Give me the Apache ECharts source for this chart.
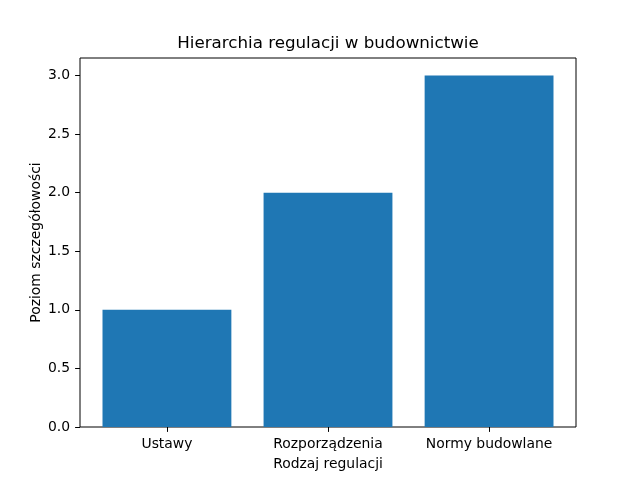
<!DOCTYPE html>
<html><head><meta charset="utf-8">
<script src="https://cdn.jsdelivr.net/npm/echarts@6/dist/echarts.min.js"></script>
<style>html,body{margin:0;padding:0;background:#fff}#c{width:640px;height:480px}</style>
</head><body><div id="c"></div>
<script>
var categories = ['Ustawy', 'Rozporządzenia', 'Normy budowlane'];
var values = [1, 2, 3];
var yTicks = [0, 0.5, 1, 1.5, 2, 2.5, 3];
var titleText = 'Hierarchia regulacji w budownictwie';
var xName = 'Rodzaj regulacji';
var yName = 'Poziom szczegółowości';

var font = 'DejaVu Sans';
var chart = echarts.init(document.getElementById('c'), null, {renderer: 'canvas'});
var yMax = 3.15;
chart.setOption({
  animation: false,
  textStyle: {fontFamily: font},
  graphic: [{
    type: 'text', x: 328, y: 44,
    style: {text: titleText, font: '16.7px "DejaVu Sans"', fill: '#000', textAlign: 'center', textVerticalAlign: 'middle'}
  }],
  grid: [
    {left: 80, right: 64, top: 58, bottom: 53, show: true, borderColor: '#000', borderWidth: 1, backgroundColor: 'transparent', containLabel: false},
    {left: 86.4, right: 70.4, top: 58, bottom: 53, containLabel: false}
  ],
  xAxis: [
    {gridIndex: 0, type: 'value', min: 0, max: 1, show: false},
    {gridIndex: 1, type: 'category', data: categories,
     axisLine: {show: false},
     axisTick: {show: true, alignWithLabel: true, length: 4.9, lineStyle: {color: '#000'}},
     axisLabel: {margin: 10, interval: 0, hideOverlap: false, color: '#000', fontSize: 13.9, fontFamily: font},
     name: xName, nameLocation: 'middle', nameGap: 30, nameMoveOverlap: false,
     nameTextStyle: {color: '#000', fontSize: 13.9, fontFamily: font}}
  ],
  yAxis: [
    {gridIndex: 0, type: 'value', min: 0, max: yMax,
     axisLine: {show: false},
     splitLine: {show: false},
     axisTick: {show: true, length: 4.9, lineStyle: {color: '#000'}, customValues: yTicks},
     axisLabel: {margin: 10, color: '#000', fontSize: 13.9, fontFamily: font, customValues: yTicks,
       formatter: function (v) { return v.toFixed(1); }},
     name: yName, nameLocation: 'middle', nameGap: 37, nameRotate: 90, nameMoveOverlap: false,
     nameTextStyle: {color: '#000', fontSize: 13.9, fontFamily: font}},
    {gridIndex: 1, type: 'value', min: 0, max: yMax, show: false}
  ],
  series: [{
    type: 'bar', xAxisIndex: 1, yAxisIndex: 1, data: values,
    barCategoryGap: '20%',
    itemStyle: {color: '#1f77b4'}
  }]
});
</script></body></html>
